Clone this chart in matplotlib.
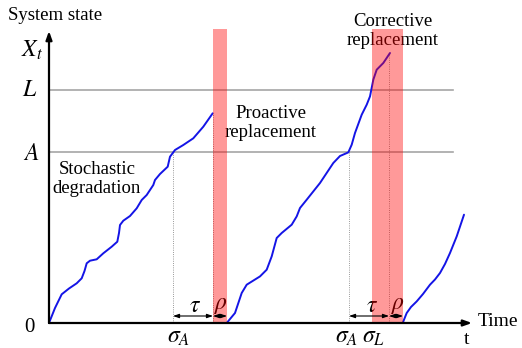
import numpy as np
import matplotlib
matplotlib.use("Agg")
import matplotlib.pyplot as plt

plt.rcParams['font.family'] = ['Liberation Serif', 'DejaVu Serif']
plt.rcParams['mathtext.fontset'] = 'stix'

# thresholds (state units)
level_A = 171
level_L = 233

# degradation paths: (time, state)
path1_t = [0, 6, 12.7, 20, 27.7, 32.7, 35.5, 37.7, 41, 47.7, 54.3, 62.7, 68.3, 70, 71, 74.3,
           81, 87.7, 92.7, 97.7, 104.3, 106, 111, 118.7, 121, 126, 134.3, 144.3, 154.3, 163.7]
path1_x = [0, 15, 28.7, 34.5, 39.7, 44.7, 52, 59.7, 62.3, 63.7, 69.7, 76.3, 81.3, 90, 98, 102.3,
           107, 114.7, 123, 128, 138, 143, 149, 156.3, 166.3, 173, 178, 184.7, 196.3, 209.7]

path2_t = [177.7, 186, 192.7, 197.7, 211, 217.7, 222.7, 227.7, 232.7, 242.7, 247.7, 251,
           257.7, 271, 284.3, 291, 299.3, 302.7, 306, 312.7, 317.7, 321, 324.3, 327.7, 334.3, 341]
path2_x = [0, 10, 30, 38.3, 46.6, 53.3, 66.6, 85, 90, 98.3, 106.6, 115, 123.3, 140, 160,
           167, 170.6, 178.3, 190, 208.3, 218.3, 226.6, 243.3, 253.3, 260, 270]

path3_t = [353.7, 357.7, 362, 367.7, 374, 381, 386, 391, 396, 401, 407.7, 415]
path3_x = [0, 10, 16, 21.6, 29, 38.3, 43.5, 50, 59, 70, 86.6, 108.3]

# key instants
sigma_A1 = 124
repl1_start, repl1_end = 164, 178
sigma_A2 = 300
sigma_L2 = 340
repl2_start, repl2_end = 323, 354

fig = plt.figure(figsize=(5.22, 3.48), dpi=100)
ax = fig.add_axes([0, 0, 1, 1])
ax.set_xlim(-49, 473)
ax.set_ylim(-25, 323)
ax.axis('off')

# thresholds
for lvl in (level_A, level_L):
    ax.plot([0, 404], [lvl, lvl], color='#a6a6a6', lw=1.2, zorder=1)

# dotted guides
dot = dict(color='#777777', lw=0.6, ls=':', zorder=1)
ax.plot([sigma_A1, sigma_A1], [0, level_A], **dot)
ax.plot([repl1_start, repl1_start], [0, path1_x[-1]], **dot)
ax.plot([sigma_A2, sigma_A2], [0, level_A], **dot)
ax.plot([sigma_L2, sigma_L2], [0, path2_x[-1]], **dot)

# paths
for tt, xx in [(path1_t, path1_x), (path2_t, path2_x), (path3_t, path3_x)]:
    ax.plot(tt, xx, color='#1414e6', lw=1.4, zorder=3,
            solid_joinstyle='round', solid_capstyle='round')

# replacement windows
for a, b in [(repl1_start, repl1_end), (repl2_start, repl2_end)]:
    ax.fill_between([a, b], 0, 294, color='red', alpha=0.4, lw=0, zorder=4)

# axes arrows
arr = dict(arrowstyle='-|>,head_length=0.5,head_width=0.18', color='black', lw=1.6,
           shrinkA=0, shrinkB=0)
ax.annotate('', xy=(423, 0), xytext=(0, 0), arrowprops=arr, zorder=5)
ax.annotate('', xy=(0, 292), xytext=(0, 0), arrowprops=arr, zorder=5)

# tau / rho arrows
dbl = dict(arrowstyle='<|-|>,head_length=0.35,head_width=0.12', color='black', lw=0.8,
           shrinkA=0, shrinkB=0)
for a, b in [(sigma_A1, repl1_start), (repl1_start, repl1_end),
             (sigma_A2, sigma_L2), (sigma_L2, repl2_end)]:
    ax.annotate('', xy=(b, 7), xytext=(a, 7), arrowprops=dbl, zorder=5)

fs = 13.5
ax.text(-41, 308, 'System state', fontsize=fs, ha='left', va='center')
ax.text(48, 144, 'Stochastic\ndegradation', fontsize=fs, ha='center', va='center',
        linespacing=1.15)
ax.text(222, 200, 'Proactive\nreplacement', fontsize=fs, ha='center', va='center',
        linespacing=1.15)
ax.text(344, 292, 'Corrective\nreplacement', fontsize=fs, ha='center', va='center',
        linespacing=1.15)
ax.text(429, 1, 'Time', fontsize=14, ha='left', va='center')
ax.text(418, -16, 't', fontsize=14, ha='center', va='center')

ms = 17
ax.text(-17, 273, r'$X_t$', fontsize=ms, ha='center', va='center')
ax.text(-19.5, level_L, r'$L$', fontsize=ms, ha='center', va='center')
ax.text(-18, level_A - 2, r'$A$', fontsize=ms, ha='center', va='center')
ax.text(-19.5, -4, '0', fontsize=15, ha='center', va='center')
ax.text(sigma_A1 + 6, -14.5, r'$\sigma_A$', fontsize=ms, ha='center', va='center')
ax.text(sigma_A2 - 2, -14.5, r'$\sigma_A$', fontsize=ms, ha='center', va='center')
ax.text(sigma_L2 - 15.5, -14.5, r'$\sigma_L$', fontsize=ms, ha='center', va='center')
ax.text(146, 17, r'$\tau$', fontsize=ms, ha='center', va='center')
ax.text(323, 17, r'$\tau$', fontsize=ms, ha='center', va='center')
ax.text(172, 18, r'$\rho$', fontsize=ms, ha='center', va='center')
ax.text(349, 18, r'$\rho$', fontsize=ms, ha='center', va='center')

fig.savefig('out.png', dpi=100)
